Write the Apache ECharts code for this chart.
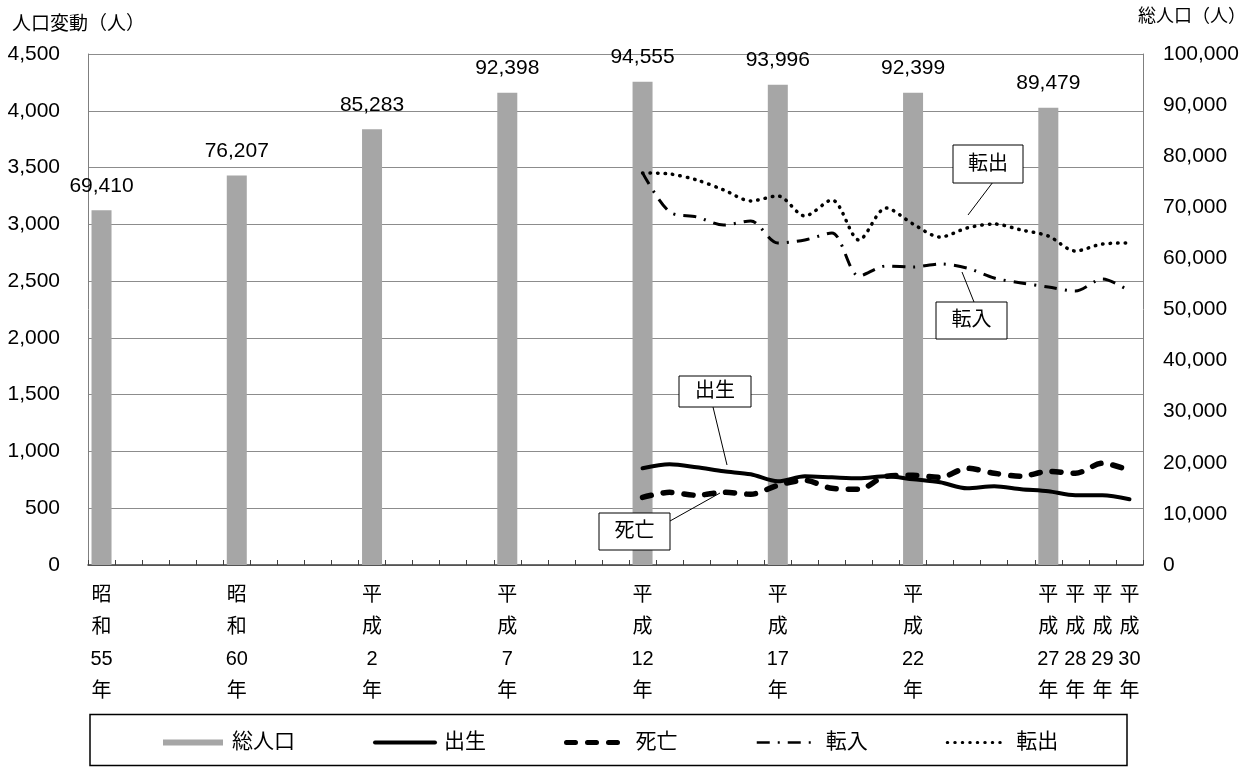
<!DOCTYPE html>
<html>
<head>
<meta charset="utf-8">
<script src="https://cdn.jsdelivr.net/npm/echarts@6/dist/echarts.min.js"></script>
<style>
html,body{margin:0;padding:0;background:#fff;}
#main{width:1258px;height:767px;}
</style>
</head>
<body>
<div id="main"></div>
<script>
// ---- data ----
const categories = ['昭和55年','昭和56年','昭和57年','昭和58年','昭和59年','昭和60年','昭和61年','昭和62年','昭和63年','平成元年',
  '平成2年','平成3年','平成4年','平成5年','平成6年','平成7年','平成8年','平成9年','平成10年','平成11年',
  '平成12年','平成13年','平成14年','平成15年','平成16年','平成17年','平成18年','平成19年','平成20年','平成21年',
  '平成22年','平成23年','平成24年','平成25年','平成26年','平成27年','平成28年','平成29年','平成30年'];
const shownLabels = ['昭和55年','昭和60年','平成2年','平成7年','平成12年','平成17年','平成22年','平成27年','平成28年','平成29年','平成30年'];
const popCategories = ['昭和55年','昭和60年','平成2年','平成7年','平成12年','平成17年','平成22年','平成27年'];
const popValues = [69410, 76207, 85283, 92398, 94555, 93996, 92399, 89479];
const flowCategories = ['平成12年','平成13年','平成14年','平成15年','平成16年','平成17年','平成18年','平成19年','平成20年','平成21年',
  '平成22年','平成23年','平成24年','平成25年','平成26年','平成27年','平成28年','平成29年','平成30年'];
const births   = [852, 887, 861, 825, 799, 737, 781, 772, 764, 781, 755, 728, 675, 693, 667, 649, 614, 614, 579];
const deaths   = [595, 640, 614, 640, 623, 702, 746, 675, 667, 781, 790, 772, 852, 808, 781, 825, 808, 896, 834];
const inMoves  = [3453, 3109, 3065, 2994, 3030, 2836, 2862, 2924, 2545, 2633, 2624, 2651, 2615, 2527, 2483, 2448, 2413, 2518, 2413];
const outMoves = [3453, 3444, 3391, 3303, 3206, 3250, 3074, 3215, 2862, 3144, 3003, 2888, 2968, 3003, 2950, 2897, 2765, 2827, 2836];
const leftTicks = {min: 0, max: 4500, interval: 500};
const rightTicks = {min: 0, max: 100000, interval: 10000};

const FONT = "'Liberation Sans', 'Noto Sans CJK JP', sans-serif";
const pair = (cats, vals) => cats.map((c, i) => [c, vals[i]]);
const fmt = v => Number(v).toLocaleString('en-US');

const chart = echarts.init(document.getElementById('main'), null, {renderer: 'canvas'});

function callout(x, y, w, h, label, lx1, ly1, lx2, ly2) {
  return [
    {type: 'line', shape: {x1: lx1, y1: ly1, x2: lx2, y2: ly2}, style: {stroke: '#000', lineWidth: 1}, z: 100},
    {type: 'rect', shape: {x: x, y: y, width: w, height: h}, style: {fill: '#fff', stroke: '#000', lineWidth: 1}, z: 101},
    {type: 'text', x: x + w / 2, y: y + h / 2, style: {text: label, fontSize: 20, fontFamily: FONT, fill: '#000', align: 'center', verticalAlign: 'middle'}, z: 102}
  ];
}

const styles = {
  birth: {color: '#000', width: 4, cap: 'round'},
  death: {color: '#000', width: 5.5, type: [9, 12], cap: 'round'},
  inMove: {color: '#000', width: 3, type: [13, 8, 2, 8]},
  outMove: {color: '#000', width: 3.5, type: [0.5, 7], cap: 'round'}
};
const noDot = {color: 'rgba(0,0,0,0)', borderWidth: 0};

const option = {
  backgroundColor: '#fff',
  animation: false,
  textStyle: {fontFamily: FONT},
  grid: {left: 88, right: 115, top: 54, bottom: 202, containLabel: false},
  legend: {
    left: 163, top: 732, padding: 0,
    itemWidth: 60, itemHeight: 6, itemGap: 78,
    textStyle: {fontSize: 21, fontFamily: FONT, color: '#000', padding: [0, 0, 0, 4]},
    data: [
      {name: '総人口', icon: 'rect'},
      {name: '出生', itemStyle: noDot, lineStyle: {width: 4}},
      {name: '死亡', itemStyle: noDot, lineStyle: {width: 5}},
      {name: '転入', itemStyle: noDot, lineStyle: {width: 2.5}},
      {name: '転出', itemStyle: noDot, lineStyle: {width: 3}}
    ]
  },
  xAxis: {
    type: 'category',
    data: categories,
    boundaryGap: true,
    axisLine: {lineStyle: {color: '#404040', width: 1.5}},
    axisTick: {show: true, inside: true, length: 5, interval: 0, lineStyle: {color: '#404040'}},
    axisLabel: {
      interval: (i, v) => shownLabels.indexOf(v) >= 0,
      formatter: v => v.slice(0, 1) + '\n' + v.slice(1, 2) + '\n' + v.slice(2, -1) + '\n' + '年',
      fontSize: 20, lineHeight: 32, color: '#000', margin: 14, fontFamily: FONT
    },
    splitLine: {show: false}
  },
  yAxis: [
    {
      type: 'value', min: leftTicks.min, max: leftTicks.max, interval: leftTicks.interval,
      axisLine: {show: true, lineStyle: {color: '#7f7f7f', width: 1}},
      axisTick: {show: false},
      axisLabel: {fontSize: 21, color: '#000', margin: 28, formatter: fmt, fontFamily: FONT},
      splitLine: {show: true, lineStyle: {color: '#8c8c8c', width: 1.2}}
    },
    {
      type: 'value', min: rightTicks.min, max: rightTicks.max, interval: rightTicks.interval,
      position: 'right',
      axisLine: {show: true, lineStyle: {color: '#7f7f7f', width: 1}},
      axisTick: {show: false},
      axisLabel: {fontSize: 21, color: '#000', margin: 20, formatter: fmt, fontFamily: FONT},
      splitLine: {show: false}
    }
  ],
  graphic: [
    {type: 'text', left: 12, top: 15, style: {text: '人口変動（人）', fontSize: 19, fontFamily: FONT, fill: '#000'}},
    {type: 'text', left: 1138, top: 8, style: {text: '総人口（人）', fontSize: 18, fontFamily: FONT, fill: '#000'}},
    {type: 'rect', shape: {x: 90, y: 714.5, width: 1037, height: 51}, style: {fill: 'none', stroke: '#000', lineWidth: 1.5}},
    ...callout(953, 145, 70, 38, '転出', 993, 182, 968, 215),
    ...callout(936, 302, 71, 37, '転入', 962, 272, 974, 302),
    ...callout(679, 376, 72, 31, '出生', 713, 407, 727, 465),
    ...callout(599, 513, 71, 37, '死亡', 670, 521, 720, 493)
  ],
  series: [
    {
      name: '総人口', type: 'bar', yAxisIndex: 1, barWidth: 20,
      itemStyle: {color: '#a6a6a6'},
      label: {show: true, position: 'top', distance: 14, fontSize: 21, color: '#000', fontFamily: FONT,
        formatter: p => fmt(p.value[1])},
      data: pair(popCategories, popValues)
    },
    {
      name: '出生', type: 'line', yAxisIndex: 0, symbol: 'none', smooth: 0.3,
      lineStyle: styles.birth, itemStyle: {color: '#000'},
      data: pair(flowCategories, births)
    },
    {
      name: '死亡', type: 'line', yAxisIndex: 0, symbol: 'none', smooth: 0.3,
      lineStyle: styles.death, itemStyle: {color: '#000'},
      data: pair(flowCategories, deaths)
    },
    {
      name: '転入', type: 'line', yAxisIndex: 0, symbol: 'none', smooth: 0.3,
      lineStyle: styles.inMove, itemStyle: {color: '#000'},
      data: pair(flowCategories, inMoves)
    },
    {
      name: '転出', type: 'line', yAxisIndex: 0, symbol: 'none', smooth: 0.3,
      lineStyle: styles.outMove, itemStyle: {color: '#000'},
      data: pair(flowCategories, outMoves)
    }
  ]
};
chart.setOption(option);
</script>
</body>
</html>
